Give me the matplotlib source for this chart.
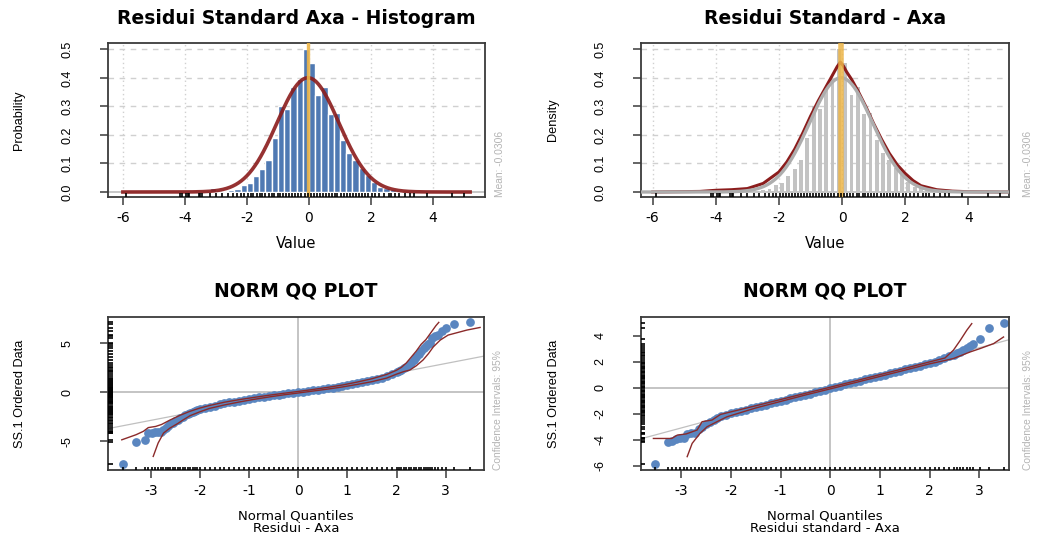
import numpy as np
import matplotlib
matplotlib.use("Agg")
import matplotlib.pyplot as plt
from matplotlib.transforms import blended_transform_factory

# ---------------------------------------------------------------------------
# Standardized residuals: histogram (density per 0.2-wide bin, from -3.2)
# ---------------------------------------------------------------------------
hist_start = -3.2
hist_width = 0.2
hist_density = [0.014, 0.000, 0.004, 0.008, 0.012, 0.023, 0.032, 0.055,
                0.082, 0.111, 0.190, 0.300, 0.290, 0.367, 0.395, 0.500,
                0.453, 0.340, 0.367, 0.273, 0.278, 0.182, 0.138, 0.112,
                0.083, 0.060, 0.036, 0.019, 0.015, 0.009, 0.005]
resid_mean = -0.0306
resid_sd = 0.997
resid_range = (-6.0, 5.2)
density_range = (-6.4, 5.3)

# kernel density of the standardized residuals
kde_x = [-6.0, -4.5, -4.0, -3.5, -3.0, -2.5, -2.0, -1.75, -1.5, -1.25, -1.0,
         -0.75, -0.5, -0.3, -0.15, -0.05, 0.05, 0.15, 0.3, 0.5, 0.75, 1.0,
         1.25, 1.5, 1.75, 2.0, 2.25, 2.5, 3.0, 3.5, 4.0, 5.0, 5.3]
kde_y = [0.0, 0.002, 0.006, 0.008, 0.012, 0.030, 0.070, 0.105, 0.150, 0.205,
         0.265, 0.320, 0.370, 0.410, 0.440, 0.455, 0.440, 0.420, 0.395, 0.355,
         0.300, 0.240, 0.185, 0.135, 0.095, 0.065, 0.040, 0.022, 0.008, 0.003,
         0.001, 0.0, 0.0]

# ---------------------------------------------------------------------------
# Normal QQ plot: raw residuals
# ---------------------------------------------------------------------------
raw_theo = [-3.57, -3.30, -3.12, -3.05, -2.98, -2.92, -2.86, -2.80, -2.75,
            -2.70, -2.65, -2.60, -2.55, -2.50, -2.45, -2.40, -2.35, -2.30,
            -2.25, -2.20, -2.15, -2.10, -2.05, -2.00, -1.90, -1.80,
            -1.70, -1.60, -1.50, -1.40, -1.30, -1.20, -1.10, -1.00, -0.90,
            -0.80, -0.70, -0.60, -0.50, -0.40, -0.30, -0.20, -0.10, 0.00,
            0.10, 0.20, 0.30, 0.40, 0.50, 0.60, 0.70, 0.80, 0.90, 1.00, 1.10,
            1.20, 1.30, 1.40, 1.50, 1.60, 1.70, 1.80, 1.90, 2.00, 2.05, 2.10,
            2.15, 2.20, 2.25, 2.30, 2.35, 2.40, 2.45, 2.50, 2.55, 2.60, 2.64,
            2.68, 2.72, 2.78, 2.85, 2.93, 3.00, 3.16, 3.49]
raw_data = [-7.37, -5.14, -4.87, -4.18, -4.15, -4.12, -4.08, -4.02, -3.85,
            -3.65, -3.45, -3.28, -3.12, -2.98, -2.82, -2.66, -2.51, -2.36,
            -2.23, -2.10, -2.00, -1.90, -1.83, -1.76, -1.61, -1.48,
            -1.36, -1.25, -1.14, -1.05, -0.95, -0.86, -0.77, -0.69, -0.61,
            -0.53, -0.46, -0.39, -0.32, -0.25, -0.19, -0.12, -0.06, 0.00,
            0.06, 0.13, 0.20, 0.27, 0.34, 0.41, 0.48, 0.56, 0.64, 0.72, 0.82,
            0.92, 1.02, 1.12, 1.23, 1.36, 1.50, 1.67, 1.86, 2.07, 2.18, 2.30,
            2.44, 2.60, 2.80, 3.00, 3.30, 3.60, 3.90, 4.20, 4.50, 4.75, 4.90,
            5.00, 5.60, 5.75, 5.90, 6.30, 6.55, 6.97, 7.14]
raw_ci_up_x = [-3.59, -3.30, -3.15, -3.05, -2.90, -2.78, -2.61, -2.40, -2.20,
               -2.00, -1.80, -1.50, -1.20, -0.90, -0.60, -0.30, 0.00, 0.30,
               0.60, 0.90, 1.20, 1.50, 1.80, 2.00, 2.10, 2.20, 2.30, 2.40,
               2.50, 2.60, 2.70, 2.80, 2.86]
raw_ci_up_y = [-4.87, -4.35, -4.00, -3.62, -3.50, -3.30, -2.85, -2.35, -1.95,
               -1.62, -1.35, -1.02, -0.76, -0.53, -0.31, -0.11, 0.08, 0.28,
               0.50, 0.74, 1.04, 1.38, 1.82, 2.25, 2.55, 3.00, 3.60, 4.20,
               4.90, 5.40, 6.10, 6.80, 7.15]
raw_ci_lo_x = [-2.95, -2.85, -2.74, -2.61, -2.45, -2.34, -2.20, -2.00, -1.80,
               -1.50, -1.20, -0.90, -0.60, -0.30, 0.00, 0.30, 0.60, 0.90,
               1.20, 1.50, 1.80, 2.00, 2.14, 2.27, 2.40, 2.54, 2.65, 2.75,
               2.89, 3.05, 3.43, 3.70]
raw_ci_lo_y = [-6.57, -5.20, -4.18, -3.67, -3.20, -2.83, -2.40, -2.00, -1.65,
               -1.30, -1.00, -0.73, -0.49, -0.27, -0.08, 0.12, 0.32, 0.54,
               0.80, 1.08, 1.45, 1.85, 2.10, 2.27, 2.70, 3.30, 3.95, 4.65,
               5.34, 5.85, 6.36, 6.63]
raw_ref = (0.03, 0.97)   # intercept, slope

# ---------------------------------------------------------------------------
# Normal QQ plot: standardized residuals
# ---------------------------------------------------------------------------
std_theo = [-3.52, -3.26, -3.18, -3.10, -3.02, -2.95, -2.88, -2.80, -2.72,
            -2.65, -2.58, -2.50, -2.42, -2.35, -2.28, -2.20, -2.10, -2.00,
            -1.90, -1.80, -1.70, -1.60, -1.50, -1.40, -1.30, -1.20, -1.10,
            -1.00, -0.90, -0.80, -0.70, -0.60, -0.50, -0.40, -0.30, -0.20,
            -0.10, 0.00, 0.10, 0.20, 0.30, 0.40, 0.50, 0.60, 0.70, 0.80, 0.90,
            1.00, 1.10, 1.20, 1.30, 1.40, 1.50, 1.60, 1.70, 1.80, 1.90, 2.00,
            2.10, 2.20, 2.30, 2.40, 2.50, 2.56, 2.62, 2.68, 2.75, 2.82, 2.88,
            3.02, 3.19, 3.49]
std_data = [-5.90, -4.15, -4.10, -3.95, -3.90, -3.88, -3.55, -3.50, -3.45,
            -3.20, -3.00, -2.80, -2.62, -2.45, -2.32, -2.20, -2.08, -1.97,
            -1.88, -1.79, -1.69, -1.59, -1.50, -1.40, -1.30, -1.20, -1.11,
            -1.01, -0.92, -0.82, -0.73, -0.63, -0.53, -0.44, -0.34, -0.24,
            -0.14, -0.04, 0.06, 0.16, 0.26, 0.36, 0.46, 0.55, 0.65, 0.74, 0.83,
            0.92, 1.02, 1.12, 1.22, 1.32, 1.42, 1.52, 1.62, 1.72, 1.82, 1.92,
            2.03, 2.14, 2.27, 2.42, 2.57, 2.65, 2.77, 2.90, 3.10, 3.25, 3.40,
            3.80, 4.62, 5.00]
std_ci_up_x = [-3.56, -3.19, -3.08, -2.90, -2.68, -2.58, -2.38, -2.21, -2.00,
               -1.50, -1.00, -0.50, 0.00, 0.50, 1.00, 1.50, 2.00, 2.31, 2.48,
               2.62, 2.75, 2.85]
std_ci_up_y = [-3.90, -3.90, -3.64, -3.55, -3.25, -2.61, -2.48, -2.05, -1.85,
               -1.38, -0.90, -0.42, 0.05, 0.53, 1.02, 1.50, 2.00, 2.30, 2.90,
               3.67, 4.44, 4.95]
std_ci_lo_x = [-2.88, -2.78, -2.62, -2.48, -2.28, -2.08, -1.50, -1.00, -0.50,
               0.00, 0.50, 1.00, 1.50, 2.00, 2.30, 2.48, 2.82, 3.02, 3.29, 3.49]
std_ci_lo_y = [-5.30, -4.28, -3.50, -3.00, -2.61, -2.23, -1.55, -1.05, -0.55,
               -0.08, 0.40, 0.88, 1.36, 1.85, 2.10, 2.26, 2.77, 3.03, 3.41, 3.92]
std_ref = (0.0, 1.03)

# ---------------------------------------------------------------------------
# Styling
# ---------------------------------------------------------------------------
W, H = 1040, 535
BLUE = "#4F79B3"
PT_BLUE = "#5A86C0"
DARKRED = "#8B1C1C"
CI_RED = "#8B2A2A"
ORANGE = "#EDB548"
GREY_BAR = "#C3C3C3"
GRID = "#D0D0D0"
SIDE_TXT = "#B4B4B4"
SPINE = "#3A3A3A"

WIDE = ["DejaVu Sans"]
NARROW = ["Liberation Sans"]

plt.rcParams["axes.unicode_minus"] = False

fig = plt.figure(figsize=(W / 100, H / 100), dpi=100)
fig.patch.set_facecolor("white")


def px_axes(x0, y0, x1, y1):
    """Create axes from pixel box (left, top, right, bottom)."""
    return fig.add_axes([x0 / W, 1 - y1 / H, (x1 - x0) / W, (y1 - y0) / H])


def fig_text(x, y, s, **kw):
    fig.text(x / W, 1 - y / H, s, **kw)


def style_axes(ax, xticks, yticks, yfmt):
    for sp in ax.spines.values():
        sp.set_color(SPINE)
        sp.set_linewidth(1.3)
    ax.set_xticks(xticks)
    ax.set_yticks(yticks)
    ax.set_xticklabels([f"{t:g}" for t in xticks], family=WIDE, fontsize=10)
    ax.set_yticklabels([yfmt(t) for t in yticks], family=NARROW, fontsize=9,
                       rotation=90, va="center")
    ax.tick_params(axis="both", direction="out", length=6, width=1.1,
                   color=SPINE)
    ax.tick_params(axis="x", pad=4)
    ax.tick_params(axis="y", pad=19)


def rug_x(ax, values, frac=0.025):
    tr = blended_transform_factory(ax.transData, ax.transAxes)
    ax.vlines(values, 0, frac, transform=tr, color="black", lw=1.2,
              zorder=4)


def rug_y(ax, values, frac=0.012):
    tr = blended_transform_factory(ax.transAxes, ax.transData)
    ax.hlines(values, 0, frac, transform=tr, color="black", lw=1.2,
              zorder=4)


def draw_grid(ax, xticks, yticks):
    for t in xticks:
        ax.axvline(t, color=GRID, lw=1.0, ls=(0, (1, 2.2)), zorder=0)
    for t in yticks:
        ax.axhline(t, color=GRID, lw=1.0, ls=(0, (4, 4)), zorder=0)


edges = hist_start + hist_width * np.arange(len(hist_density))
curve_x = np.linspace(resid_range[0], resid_range[1], 500)
curve_y = np.exp(-0.5 * ((curve_x - resid_mean) / resid_sd) ** 2) / (
    resid_sd * np.sqrt(2 * np.pi))

hist_xticks = [-6, -4, -2, 0, 2, 4]
hist_yticks = [0.0, 0.1, 0.2, 0.3, 0.4, 0.5]

# ---------------------------- histogram ------------------------------------
ax1 = px_axes(108, 43, 485, 197)
ax1.set_xlim(-6.48, 5.68)
ax1.set_ylim(-0.0175, 0.522)
draw_grid(ax1, hist_xticks, hist_yticks[1:])
ax1.axhline(0, color="#BDBDBD", lw=1.2, zorder=1)
ax1.bar(edges, hist_density, width=hist_width, align="edge", color=BLUE,
        edgecolor="white", linewidth=1.0, zorder=2)
ax1.plot(curve_x, curve_y, color=DARKRED, lw=2.6, alpha=0.9, zorder=3)
ax1.axvline(resid_mean, color=ORANGE, lw=2.4, alpha=0.9, zorder=3)
rug_x(ax1, std_data)
style_axes(ax1, hist_xticks, hist_yticks, lambda t: f"{t:.1f}")

# ---------------------------- density --------------------------------------
ax2 = px_axes(641, 43, 1009, 197)
ax2.set_xlim(-6.37, 5.29)
ax2.set_ylim(-0.0175, 0.522)
draw_grid(ax2, hist_xticks, hist_yticks[1:])
ax2.axhline(0, color="#BDBDBD", lw=1.2, zorder=1)
ax2.bar(edges + hist_width / 2, hist_density, width=hist_width * 0.6,
        align="center", color=GREY_BAR, edgecolor="none", zorder=2)
ax2.plot(kde_x, kde_y, color=DARKRED, lw=2.2, zorder=3)
dens_x = np.linspace(density_range[0], density_range[1], 500)
dens_y = np.exp(-0.5 * ((dens_x - resid_mean) / resid_sd) ** 2) / (
    resid_sd * np.sqrt(2 * np.pi))
ax2.plot(dens_x, dens_y, color="#ADADAD", lw=2.4, zorder=3)
ax2.axvline(resid_mean, color=ORANGE, lw=4.0, alpha=0.85, zorder=4)
rug_x(ax2, std_data)
style_axes(ax2, hist_xticks, hist_yticks, lambda t: f"{t:.1f}")

# ---------------------------- QQ raw ---------------------------------------
ax3 = px_axes(108, 317, 484, 470)
ax3.set_xlim(-3.87, 3.78)
ax3.set_ylim(-7.96, 7.7)
ax3.axhline(0, color="#C4C4C4", lw=1.4, zorder=0)
ax3.axvline(0, color="#C4C4C4", lw=1.4, zorder=0)
ax3.axline((0, raw_ref[0]), slope=raw_ref[1], color="#C0C0C0", lw=0.9,
           zorder=1)
ax3.plot(raw_theo, raw_data, "o", ms=6.3, mfc=PT_BLUE, mec="none", zorder=2)
ax3.plot(raw_ci_up_x, raw_ci_up_y, color=CI_RED, lw=1.0, zorder=3)
ax3.plot(raw_ci_lo_x, raw_ci_lo_y, color=CI_RED, lw=1.0, zorder=3)
rug_x(ax3, raw_theo, 0.02)
rug_y(ax3, raw_data)
style_axes(ax3, [-3, -2, -1, 0, 1, 2, 3], [-5, 0, 5], lambda t: f"{t:g}")

# ---------------------------- QQ standardized ------------------------------
ax4 = px_axes(641, 317, 1009, 470)
ax4.set_xlim(-3.81, 3.6)
ax4.set_ylim(-6.33, 5.46)
ax4.axhline(0, color="#C4C4C4", lw=1.4, zorder=0)
ax4.axvline(0, color="#C4C4C4", lw=1.4, zorder=0)
ax4.axline((0, std_ref[0]), slope=std_ref[1], color="#C0C0C0", lw=0.9,
           zorder=1)
ax4.plot(std_theo, std_data, "o", ms=6.3, mfc=PT_BLUE, mec="none", zorder=2)
ax4.plot(std_ci_up_x, std_ci_up_y, color=CI_RED, lw=1.0, zorder=3)
ax4.plot(std_ci_lo_x, std_ci_lo_y, color=CI_RED, lw=1.0, zorder=3)
rug_x(ax4, std_theo, 0.02)
rug_y(ax4, std_data)
style_axes(ax4, [-3, -2, -1, 0, 1, 2, 3], [-6, -4, -2, 0, 2, 4],
           lambda t: f"{t:g}")

# ---------------------------- titles and labels ----------------------------
title_kw = dict(family=WIDE, fontsize=13.5, fontweight="bold",
                ha="center", va="center")
fig_text(296, 18, "Residui Standard Axa - Histogram", **title_kw)
fig_text(825, 18, "Residui Standard - Axa", **title_kw)
fig_text(296, 291, "NORM QQ PLOT", **title_kw)
fig_text(825, 291, "NORM QQ PLOT", **title_kw)

xl_kw = dict(family=WIDE, fontsize=10.5, ha="center", va="center")
fig_text(296, 243, "Value", **xl_kw)
fig_text(825, 243, "Value", **xl_kw)
ql_kw = dict(family=WIDE, fontsize=9.5, ha="center", va="center")
fig_text(296, 516, "Normal Quantiles", **ql_kw)
fig_text(296, 529, "Residui - Axa", **ql_kw)
fig_text(825, 516, "Normal Quantiles", **ql_kw)
fig_text(825, 529, "Residui standard - Axa", **ql_kw)

yl_kw = dict(family=NARROW, fontsize=9.2, rotation=90, ha="center",
             va="center")
fig_text(19, 120, "Probability", **yl_kw)
fig_text(553, 120, "Density", **yl_kw)
fig_text(20, 394, "SS.1 Ordered Data", **yl_kw)
fig_text(554, 394, "SS.1 Ordered Data", **yl_kw)

side_kw = dict(family=NARROW, fontsize=7.4, rotation=90, ha="center",
               va="bottom", color=SIDE_TXT)
fig_text(500, 197, f"Mean: {resid_mean:g}", **side_kw)
fig_text(1028, 197, f"Mean: {resid_mean:g}", **side_kw)
fig_text(498, 470, "Confidence Intervals: 95%", **side_kw)
fig_text(1028, 470, "Confidence Intervals: 95%", **side_kw)

fig.savefig("out.png", dpi=100, facecolor="white")
